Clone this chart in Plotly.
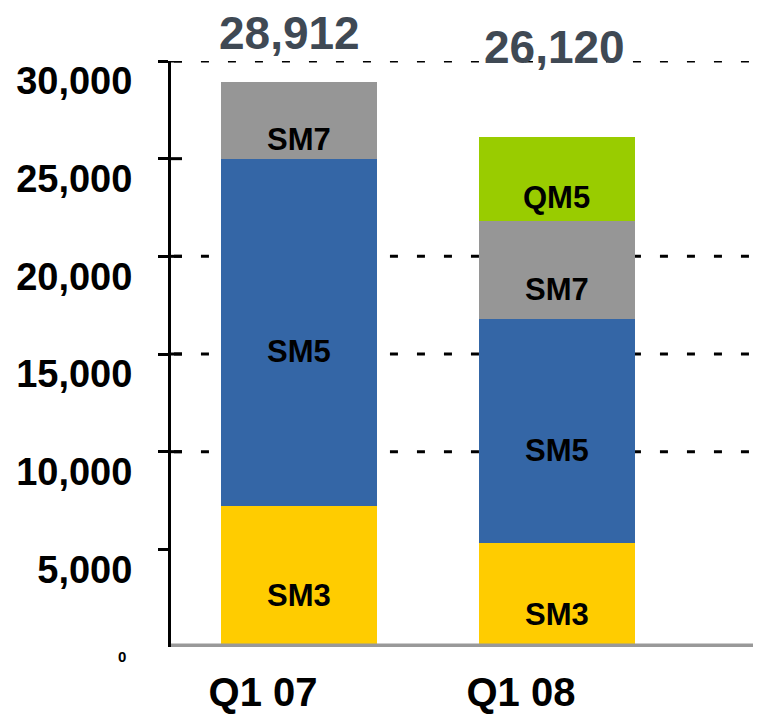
import plotly.graph_objects as go

quarters = ["Q1 07", "Q1 08"]
sm3 = [7200, 5300]
sm5 = [17800, 11500]
sm7 = [3912, 5000]
qm5 = [0, 4320]

series = [
    ("SM3", sm3, "#FFCC00"),
    ("SM5", sm5, "#3466A6"),
    ("SM7", sm7, "#969696"),
    ("QM5", qm5, "#99CC00"),
]

y_ticks = [5000, 10000, 15000, 20000, 25000, 30000]
y_ticktext = ["5,000", "10,000", "15,000", "20,000", "25,000", "30,000"]
grid_vals = [10000, 15000, 20000, 30000]

FONT = "Liberation Sans, Arial, sans-serif"

fig = go.Figure()
for name, vals, col in series:
    fig.add_trace(go.Bar(
        x=quarters, y=vals, name=name,
        marker=dict(color=col, line=dict(width=0)),
        width=0.605,
        hoverinfo="skip",
    ))

# segment labels, a bit below the segment middle as in the original
annos = []
base = [0, 0]
for name, vals, col in series:
    for i, v in enumerate(vals):
        if v > 0:
            annos.append(dict(
                x=quarters[i], y=base[i] + v / 2, text="<b>" + name + "</b>",
                showarrow=False, yshift=-19,
                font=dict(family=FONT, size=31, color="black"),
            ))
        base[i] += v

totals = [sum(s[1][i] for s in series) for i in range(len(quarters))]
tot_shift = [49, 90]
tot_xshift = [-10, -2]
for i, t in enumerate(totals):
    annos.append(dict(
        x=quarters[i], y=t, text="<b>" + f"{t:,}" + "</b>",
        showarrow=False, yshift=tot_shift[i], xshift=tot_xshift[i],
        borderpad=0,
        font=dict(family=FONT, size=46, color="#3F4954"),
    ))

# small zero label
annos.append(dict(
    xref="paper", x=0, y=0, text="<b>0</b>", showarrow=False,
    xanchor="right", xshift=-43, yshift=-9,
    font=dict(family=FONT, size=15, color="black"),
))

shapes = []
for g in grid_vals:
    shapes.append(dict(
        type="line", xref="paper", yref="y", x0=0.005, x1=1, y0=g, y1=g,
        line=dict(color="black", width=3, dash="8px,19px"), layer="below",
    ))
    # inside half of the crossing ticks
    shapes.append(dict(
        type="line", xref="paper", yref="y", x0=0, x1=11 / 590, y0=g, y1=g,
        line=dict(color="black", width=3),
    ))
shapes.append(dict(
    type="line", xref="paper", yref="y", x0=0, x1=11 / 590, y0=25000, y1=25000,
    line=dict(color="black", width=3),
))
shapes.append(dict(
    type="line", xref="paper", yref="y", x0=0, x1=1, y0=0, y1=0,
    line=dict(color="#999999", width=7),
))

# the page body adds 8px on the left and top, so the figure is 8px smaller
fig.update_layout(
    width=753, height=707,
    margin=dict(l=163, r=0, t=53, b=68),
    barmode="stack",
    showlegend=False,
    plot_bgcolor="white",
    paper_bgcolor="white",
    annotations=annos,
    shapes=shapes,
    font=dict(family=FONT, color="black"),
    xaxis=dict(
        range=[-0.4966, 1.791],
        showgrid=False, showline=False, zeroline=False, ticks="",
        tickfont=dict(family=FONT, size=40, color="black"),
        tickvals=quarters, ticktext=["<b>" + q + "</b>" for q in quarters],
        ticklabelshift=-36, ticklabelstandoff=18,
    ),
    yaxis=dict(
        range=[0, 30000],
        showgrid=False, zeroline=False,
        showline=True, linecolor="black", linewidth=3,
        ticks="outside", ticklen=10, tickwidth=3, tickcolor="black",
        tickvals=y_ticks, ticktext=["<b>" + t + "</b>" for t in y_ticktext],
        tickfont=dict(family=FONT, size=38, color="black"),
        ticklabelshift=20, ticklabelstandoff=18,
    ),
)

fig.write_html("out.html")
